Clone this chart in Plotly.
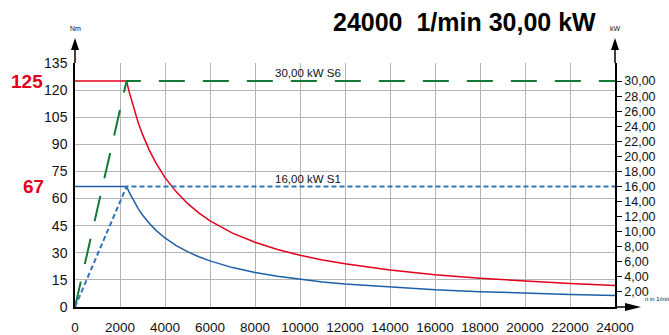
import plotly.graph_objects as go

# Speed samples (1/min) and torque (Nm) for S6 and S1 duty
speed = [0, 2292, 2400, 2600, 2800, 3000, 3300, 3600, 4000, 4500, 5000, 5500, 6000,
         7000, 8000, 9000, 10000, 11000, 12000, 14000, 16000, 18000, 20000, 22000, 24000]
torque_s6 = [125, 125, 119.4, 110.2, 102.3, 95.5, 86.8, 79.6, 71.6, 63.7, 57.3, 52.1, 47.7,
             40.9, 35.8, 31.8, 28.6, 26.0, 23.9, 20.5, 17.9, 15.9, 14.3, 13.0, 11.9]
torque_s1 = [66.7, 66.7, 63.7, 58.8, 54.6, 50.9, 46.3, 42.4, 38.2, 34.0, 30.6, 27.8, 25.5,
             21.8, 19.1, 17.0, 15.3, 13.9, 12.7, 10.9, 9.5, 8.5, 7.6, 6.9, 6.4]

# Power (kW) for S6 and S1
power_speed = [0, 2292, 24000]
power_s6 = [0, 30.0, 30.0]
power_s1 = [0, 16.0, 16.0]

nm_ticks = list(range(0, 136, 15))
kw_ticks = list(range(2, 31, 2))
kw_labels = [f"{v},00" for v in kw_ticks]
rpm_ticks = list(range(0, 24001, 2000))
rpm_labels = [str(v) for v in rpm_ticks]

title_text = "24000  1/min 30,00 kW"
peak_s6, peak_s1 = "125", "67"

FONT = "Liberation Sans, Arial, sans-serif"
RED = "#e3001b"
BLUE = "#1d5fa6"
BLUE_D = "#2f74bd"
GREEN = "#127a35"

fig = go.Figure()
fig.add_trace(go.Scatter(x=power_speed, y=power_s6, yaxis="y2", mode="lines",
                         line=dict(color=GREEN, width=2, dash="26px,18px")))
fig.add_trace(go.Scatter(x=power_speed, y=power_s1, yaxis="y2", mode="lines",
                         line=dict(color=BLUE_D, width=2, dash="5px,3px")))
fig.add_trace(go.Scatter(x=speed, y=torque_s6, mode="lines",
                         line=dict(color=RED, width=1.5)))
fig.add_trace(go.Scatter(x=speed, y=torque_s1, mode="lines",
                         line=dict(color=BLUE, width=1.5)))

fig.update_layout(
    width=669, height=335,
    margin=dict(l=75, r=54, t=63, b=28),
    paper_bgcolor="white", plot_bgcolor="white",
    showlegend=False,
    xaxis=dict(range=[0, 24000], tickvals=rpm_ticks, ticktext=rpm_labels, ticks="",
               showgrid=True, gridcolor="#b4b4b4", gridwidth=1, zeroline=False,
               showline=True, linecolor="black", linewidth=1.5, automargin=False,
               tickfont=dict(family=FONT, size=13.5, color="#111"), ticklabelstandoff=7),
    yaxis=dict(range=[0, 135], tickvals=nm_ticks, ticks="", showgrid=True,
               gridcolor="#b4b4b4", gridwidth=1, zeroline=False, automargin=False,
               showline=True, linecolor="black", linewidth=1.5,
               tickfont=dict(family=FONT, size=14, color="#111"), ticklabelstandoff=3),
    yaxis2=dict(range=[0, 135 * 30 / 125], overlaying="y", side="right",
                tickvals=kw_ticks, ticktext=kw_labels, ticks="outside",
                ticklen=5, tickcolor="black", showgrid=False, zeroline=False,
                showline=True, linecolor="black", linewidth=1.5, automargin=False,
                tickfont=dict(family=FONT, size=12.5, color="#111")),
)

# Axis extensions with arrowheads
px_w, px_h = 540.0, 244.0
def tri_up(xp, tip, base, half):
    return f"M {xp - half} {base} L {xp + half} {base} L {xp} {tip} Z"

shapes = []
for xp in (0, 1):
    shapes.append(dict(type="line", xref="paper", yref="paper", x0=xp, x1=xp,
                       y0=1, y1=1.07, line=dict(color="black", width=1.5)))
    shapes.append(dict(type="path", xref="paper", yref="paper",
                       path=tri_up(xp, (307 - 38) / px_h, (307 - 50) / px_h, 4 / px_w),
                       fillcolor="black", line=dict(color="black", width=0)))
shapes.append(dict(type="line", xref="paper", yref="paper", x0=1, x1=1.04,
                   y0=0, y1=0, line=dict(color="black", width=1.5)))
tip_x, base_x, half_y = (641 - 75) / px_w, (625 - 75) / px_w, 4 / px_h
shapes.append(dict(type="path", xref="paper", yref="paper",
                   path=f"M {base_x} {-half_y} L {base_x} {half_y} L {tip_x} 0 Z",
                   fillcolor="black", line=dict(color="black", width=0)))
fig.update_layout(shapes=shapes)

small = dict(family=FONT, size=7, color="#111")
ann = [
    dict(text="Nm", xref="paper", yref="paper", x=0, y=(307 - 29) / px_h,
         showarrow=False, font=small, xanchor="center", yanchor="middle"),
    dict(text="kW", xref="paper", yref="paper", x=1, y=(307 - 29) / px_h,
         showarrow=False, font=small, xanchor="center", yanchor="middle"),
    dict(text="n in 1/min", xref="paper", yref="paper", x=(643 - 75) / px_w,
         y=(307 - 299) / px_h, showarrow=False, font=dict(family=FONT, size=6, color="#111"),
         xanchor="left", yanchor="middle"),
    dict(text=title_text, xref="paper", yref="paper", x=(598 - 75) / px_w,
         y=(307 - 22) / px_h, showarrow=False, xanchor="right", yanchor="middle",
         font=dict(family=FONT, size=25, color="black", weight="bold")),
    dict(text=peak_s6, xref="paper", yref="y", x=-30 / px_w, y=125, showarrow=False,
         xanchor="right", yanchor="middle",
         font=dict(family=FONT, size=19, color=RED, weight="bold")),
    dict(text=peak_s1, xref="paper", yref="y", x=-29 / px_w, y=66.7, showarrow=False,
         xanchor="right", yanchor="middle",
         font=dict(family=FONT, size=19, color=RED, weight="bold")),
    dict(text="30,00 kW S6", x=10350, y=30.0, yref="y2", showarrow=False,
         xanchor="center", yanchor="bottom",
         font=dict(family=FONT, size=11.5, color="#111")),
    dict(text="16,00 kW S1", x=10350, y=16.0, yref="y2", showarrow=False,
         xanchor="center", yanchor="bottom",
         font=dict(family=FONT, size=11.5, color="#111")),
]
fig.update_layout(annotations=ann)

fig.write_html("out.html")
